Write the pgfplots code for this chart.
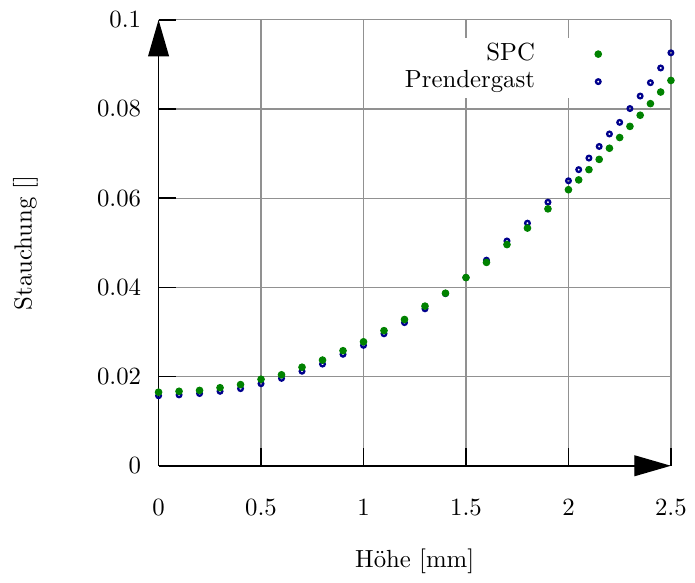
\documentclass[border=0pt]{standalone}
\usepackage{pgfplots}
\pgfplotsset{compat=1.18}
\usetikzlibrary{arrows.meta}
\definecolor{spcgreen}{RGB}{0,130,0}
\definecolor{prblue}{RGB}{0,0,140}
\definecolor{gridgray}{RGB}{145,145,145}
\begin{document}
\begin{tikzpicture}
\begin{axis}[
  name=ax,
  scale only axis,
  width=206.8pt, height=180pt,
  xmin=0, xmax=2.5, ymin=0, ymax=0.1,
  axis lines=left,
  axis line style={line width=0.6pt, black, -{Triangle[length=14.8pt,width=8.4pt]}},
  xtick={0,0.5,1,1.5,2,2.5},
  ytick={0,0.02,0.04,0.06,0.08,0.1},
  scaled y ticks=false,
  yticklabel style={/pgf/number format/fixed, /pgf/number format/precision=2, xshift=-3.5pt},
  xticklabel style={yshift=-10pt},
  tick align=inside,
  major tick length=7.2pt,
  tick style={black, line width=0.6pt},
  grid=major,
  major grid style={gridgray, line width=0.55pt},
  xlabel={Höhe [mm]},
  ylabel={Stauchung []},
  x label style={at={(axis description cs:0.5,-0.2289)}, anchor=base},
  y label style={at={(axis description cs:-0.2476,0.5)}, anchor=base, rotate=0},
  clip=false,
  reverse legend,
  legend plot pos=right,
  legend cell align=right,
  legend style={at={(axis cs:2.176,0.096)}, anchor=north east, draw=none, fill=white,
    inner sep=1pt, row sep=0.2pt, column sep=23.2pt,
    nodes={inner sep=1pt, text height=6.9pt, text depth=2pt}},
]
\addplot[only marks, mark=o, mark size=0.93pt, mark options={prblue, line width=0.93pt}]
coordinates {
(0,0.0157)(0.1,0.0159)(0.2,0.0162)(0.3,0.0167)(0.4,0.0173)(0.5,0.0184)
(0.6,0.0196)(0.7,0.0212)(0.8,0.0228)(0.9,0.0250)(1.0,0.0270)(1.1,0.0296)
(1.2,0.0321)(1.3,0.0352)(1.4,0.0386)(1.5,0.0422)(1.6,0.0461)(1.7,0.0504)
(1.8,0.0544)(1.9,0.0591)(2.0,0.0639)(2.05,0.0664)(2.1,0.0690)(2.15,0.0716)
(2.2,0.0744)(2.25,0.0770)(2.3,0.0801)(2.35,0.0829)(2.4,0.0859)(2.45,0.0892)
(2.5,0.0926)
};
\addlegendentry{Prendergast}
\addplot[only marks, mark=*, mark size=1.33pt, mark options={spcgreen, fill=spcgreen, draw=none}]
coordinates {
(0,0.0165)(0.1,0.0167)(0.2,0.0169)(0.3,0.0175)(0.4,0.0182)(0.5,0.0194)
(0.6,0.0204)(0.7,0.0221)(0.8,0.0237)(0.9,0.0258)(1.0,0.0278)(1.1,0.0303)
(1.2,0.0328)(1.3,0.0358)(1.4,0.0387)(1.5,0.0422)(1.6,0.0456)(1.7,0.0496)
(1.8,0.0533)(1.9,0.0576)(2.0,0.0619)(2.05,0.0641)(2.1,0.0664)(2.15,0.0687)
(2.2,0.0712)(2.25,0.0736)(2.3,0.0761)(2.35,0.0786)(2.4,0.0812)(2.45,0.0838)
(2.5,0.0864)
};
\addlegendentry{SPC}
\end{axis}
\path ([shift={(-64pt,-43.6pt)}]ax.south west) rectangle ([shift={(7.2pt,8pt)}]ax.north east);
\end{tikzpicture}
\end{document}
